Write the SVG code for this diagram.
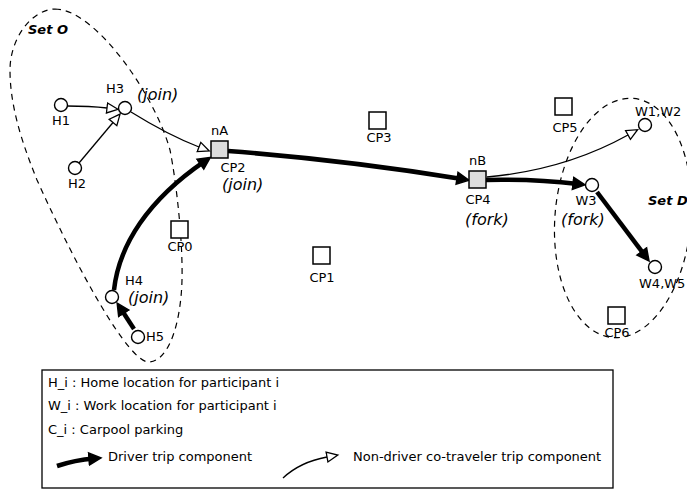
<svg xmlns="http://www.w3.org/2000/svg" width="687" height="490" viewBox="0 0 687 490">
<style>
text{font-family:"DejaVu Sans","Liberation Sans",sans-serif;fill:#000}
.lbl{font-size:13px}
.lbl.c{text-anchor:middle}
.it{font-size:16px;font-style:italic}
.set{font-size:13px;font-style:italic;font-weight:bold}
.leg{font-size:13px}
.node{fill:#fff;stroke:#000;stroke-width:1.4}
.cp{fill:#fff;stroke:#000;stroke-width:1.5}
.cpg{fill:#dcdcdc;stroke:#000;stroke-width:1.5}
.drv{fill:none;stroke:#000;stroke-width:4.5}
.nd{fill:none;stroke:#000;stroke-width:1.3}
.set-b{fill:none;stroke:#000;stroke-width:1.2;stroke-dasharray:6,5}
</style>
<defs>
<marker id="dArr" markerUnits="userSpaceOnUse" markerWidth="18" markerHeight="16" refX="6" refY="7" orient="auto" viewBox="0 0 18 14">
<path d="M1,1 L13,7 L1,13 Z" fill="#000" stroke="#000" stroke-width="1.5" stroke-linejoin="miter"/>
</marker>
<marker id="nArr" markerUnits="userSpaceOnUse" markerWidth="16" markerHeight="14" refX="1" refY="6" orient="auto" viewBox="0 0 16 12">
<path d="M1,1 L12,6 L1,11 Z" fill="#fff" stroke="#000" stroke-width="1.3"/>
</marker>
</defs>
<g id="sets">
<path id="setO" class="set-b" d="M55,9 C95,9 155,95 170,150 C176,180 183,240 182,280 C181,320 170,362 148,362 C128,360 80,275 37,180 C25,150 10,110 10,70 C10,40 30,10 55,9 Z"/>
<ellipse id="setD" class="set-b" cx="623" cy="218" rx="68" ry="120" transform="rotate(5 623 218)"/>
<text class="set" x="28" y="34">Set O</text>
<text class="set" x="648" y="205">Set D</text>
</g>
<g id="connectors">
<path class="nd" d="M67,106 Q90,106 107,108" marker-end="url(#nArr)"/>
<path class="nd" d="M79,163 L113,122.5" marker-end="url(#nArr)"/>
<path class="nd" d="M131,112 Q168,135 199,147" marker-end="url(#nArr)"/>
<path class="nd" d="M487,177 Q565,170 628,135" marker-end="url(#nArr)"/>
<path class="drv" d="M114,290 C119,245 148,200 204.5,161.4" marker-end="url(#dArr)"/>
<path class="drv" d="M134,329 L121,309" marker-end="url(#dArr)"/>
<path class="drv" d="M228,151 Q345,160 462,179" marker-end="url(#dArr)"/>
<path class="drv" d="M486,180 Q535,179 578,184" marker-end="url(#dArr)"/>
<path class="drv" d="M597,192 L644.8,255.4" marker-end="url(#dArr)"/>
</g>
<g id="H1"><circle class="node" cx="61" cy="105" r="6.5"/><text class="lbl c" x="61" y="125">H1</text></g>
<g id="H2"><circle class="node" cx="75" cy="168" r="6.5"/><text class="lbl c" x="77" y="188">H2</text></g>
<g id="H3"><circle class="node" cx="125" cy="108" r="6.5"/><text class="lbl c" x="115" y="93">H3</text><text class="it" x="137" y="100">(join)</text></g>
<g id="H4"><circle class="node" cx="112" cy="297" r="6.5"/><text class="lbl" x="125" y="285">H4</text><text class="it" x="128" y="303">(join)</text></g>
<g id="H5"><circle class="node" cx="138" cy="337" r="6.5"/><text class="lbl" x="146" y="341">H5</text></g>
<g id="CP0"><rect class="cp" x="171" y="221" width="17" height="17"/><text class="lbl c" x="180" y="251">CP0</text></g>
<g id="CP1"><rect class="cp" x="313" y="247" width="17" height="17"/><text class="lbl c" x="322" y="282">CP1</text></g>
<g id="nA"><rect class="cpg" x="211" y="141" width="17" height="17"/><text class="lbl" x="211" y="135">nA</text><text class="lbl c" x="233" y="172">CP2</text><text class="it" x="222" y="190">(join)</text></g>
<g id="CP3"><rect class="cp" x="369" y="112" width="17" height="17"/><text class="lbl c" x="379" y="142">CP3</text></g>
<g id="nB"><rect class="cpg" x="469" y="171" width="17" height="17"/><text class="lbl" x="469" y="165">nB</text><text class="lbl c" x="478" y="204">CP4</text><text class="it" x="465" y="225">(fork)</text></g>
<g id="CP5"><rect class="cp" x="555" y="98" width="17" height="17"/><text class="lbl c" x="565" y="132">CP5</text></g>
<g id="CP6"><rect class="cp" x="608" y="307" width="17" height="17"/><text class="lbl c" x="617" y="337">CP6</text></g>
<g id="W12"><circle class="node" cx="645" cy="125" r="6.5"/><text class="lbl" x="635" y="116">W1,W2</text></g>
<g id="W3"><circle class="node" cx="592" cy="185" r="6.5"/><text class="lbl c" x="586" y="205">W3</text><text class="it" x="561" y="225">(fork)</text></g>
<g id="W45"><circle class="node" cx="655" cy="267" r="6.5"/><text class="lbl" x="639" y="288">W4,W5</text></g>
<g id="legend">
<rect x="42" y="370" width="571" height="118" fill="#fff" stroke="#000" stroke-width="1.3"/>
<text class="leg" x="48" y="387">H_i : Home location for participant i</text>
<text class="leg" x="48" y="410">W_i : Work location for participant i</text>
<text class="leg" x="48" y="434">C_i : Carpool parking</text>
<path class="drv" d="M57,466 Q75,460 94,458.5" marker-end="url(#dArr)"/>
<text class="leg" x="108" y="461">Driver trip component</text>
<path class="nd" d="M283,478 Q300,462 327,457" marker-end="url(#nArr)"/>
<text class="leg" x="353" y="461">Non-driver co-traveler trip component</text>
</g>
</svg>
